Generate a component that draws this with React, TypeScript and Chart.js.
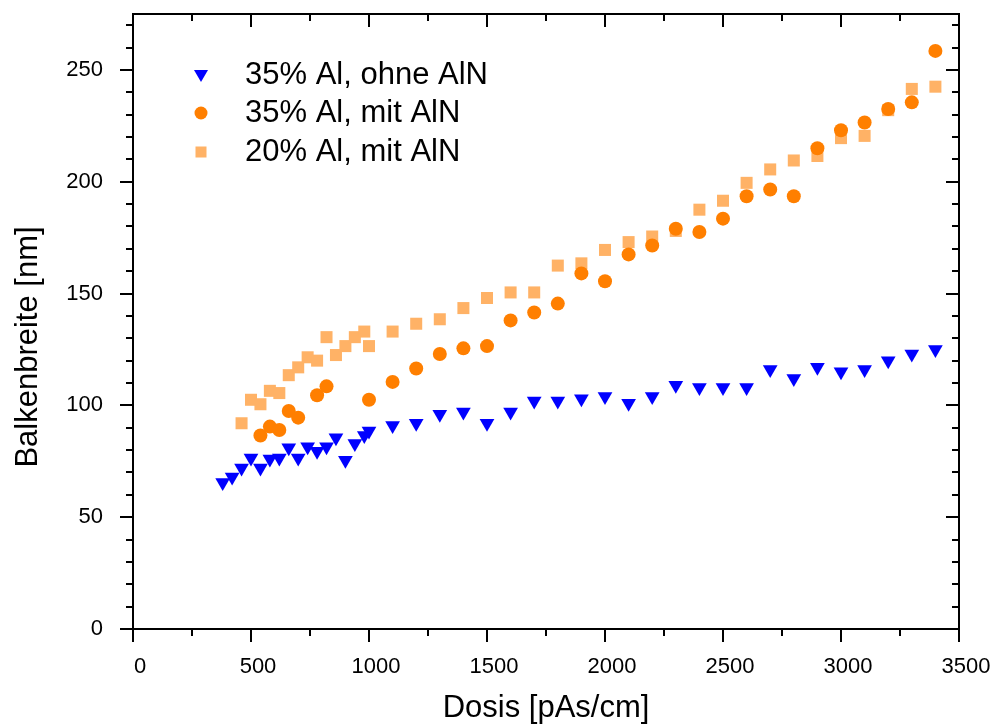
import React, { useEffect, useRef } from "react";
import { Chart, registerables } from "chart.js";

Chart.register(...registerables);

// ---- data ----
const seriesLabels = ["35% Al, ohne AlN", "35% Al, mit AlN", "20% Al, mit AlN"];

const xBlue = [380, 420, 460, 500, 540, 580, 620, 660, 700, 740, 780, 820, 860, 900, 940, 980, 1000, 1100, 1200, 1300, 1400, 1500, 1600, 1700, 1800, 1900, 2000, 2100, 2200, 2300, 2400, 2500, 2600, 2700, 2800, 2900, 3000, 3100, 3200, 3300, 3400];
const yBlue = [65.5, 68, 72, 76.5, 72, 76, 76.5, 81, 76.5, 81.5, 79.5, 81.5, 85.5, 75.5, 83, 86.5, 88.5, 91, 92, 96, 97, 92, 97, 102, 102, 103, 104, 101, 104, 109, 108, 108, 108, 116, 112, 117, 115, 116, 120, 123, 125];

const xOrange = [540, 580, 620, 660, 700, 780, 820, 1000, 1100, 1200, 1300, 1400, 1500, 1600, 1700, 1800, 1900, 2000, 2100, 2200, 2300, 2400, 2500, 2600, 2700, 2800, 2900, 3000, 3100, 3200, 3300, 3400];
const yOrange = [86.5, 90.5, 89, 97.5, 94.5, 104.5, 108.5, 102.5, 110.5, 116.5, 123, 125.5, 126.5, 138, 141.5, 145.5, 159, 155.5, 167.5, 171.5, 179, 177.5, 183.5, 193.5, 196.5, 193.5, 215, 223, 226.5, 232.5, 235.5, 258.5];

const xLight = [460, 500, 540, 580, 620, 660, 700, 740, 780, 820, 860, 900, 940, 980, 1000, 1100, 1200, 1300, 1400, 1500, 1600, 1700, 1800, 1900, 2000, 2100, 2200, 2300, 2400, 2500, 2600, 2700, 2800, 2900, 3000, 3100, 3200, 3300, 3400];
const yLight = [92, 102.5, 100.5, 106.5, 105.5, 113.5, 117, 121.5, 120, 130.5, 122.5, 126.5, 130.5, 133, 126.5, 133, 136.5, 138.5, 143.5, 148, 150.5, 150.5, 162.5, 163.5, 169.5, 173, 175.5, 178, 187.5, 191.5, 199.5, 205.5, 209.5, 211.5, 219.5, 220.5, 232, 241.5, 242.5];

const xMajorTicks = [0, 500, 1000, 1500, 2000, 2500, 3000, 3500];
const yMajorTicks = [0, 50, 100, 150, 200, 250];
const xMinorStep = 250;
const yMinorStep = 10;

const xTitle = "Dosis [pAs/cm]";
const yTitle = "Balkenbreite [nm]";

const BLUE = "#0000ff";
const ORANGE = "#ff7f00";
const LIGHT = "#ffb266";
const FONT = "'Liberation Sans', Arial, sans-serif";

const toPoints = (xs: number[], ys: number[]) => xs.map((x, i) => ({ x, y: ys[i] }));

const framePlugin = {
  id: "frame",
  afterDraw(chart: any) {
    const { ctx, chartArea: a, scales } = chart;
    const xs = scales.x;
    const ys = scales.y;
    ctx.save();
    ctx.strokeStyle = "#000";
    ctx.lineWidth = 2;
    ctx.lineCap = "butt";
    ctx.beginPath();
    ctx.rect(a.left, a.top, a.right - a.left, a.bottom - a.top);
    ctx.stroke();
    const MAJ = 13;
    const MIN = 7;
    ctx.beginPath();
    for (let v = xs.min; v <= xs.max + 1e-6; v += xMinorStep) {
      const px = Math.round(xs.getPixelForValue(v));
      const L = xMajorTicks.includes(v) ? MAJ : MIN;
      ctx.moveTo(px, a.bottom);
      ctx.lineTo(px, a.bottom + L);
      ctx.moveTo(px, a.top);
      ctx.lineTo(px, a.top + L);
    }
    for (let v = ys.min; v <= ys.max + 1e-6; v += yMinorStep) {
      const py = Math.round(ys.getPixelForValue(v));
      const L = yMajorTicks.includes(v) ? MAJ : MIN;
      ctx.moveTo(a.left, py);
      ctx.lineTo(a.left - L, py);
      ctx.moveTo(a.right, py);
      ctx.lineTo(a.right - L, py);
    }
    ctx.stroke();

    // axis titles
    ctx.fillStyle = "#000";
    ctx.font = `31px ${FONT}`;
    ctx.textAlign = "center";
    ctx.textBaseline = "middle";
    ctx.fillText(xTitle, (a.left + a.right) / 2, 708);
    ctx.save();
    ctx.translate(28, 347);
    ctx.rotate(-Math.PI / 2);
    ctx.fillText(yTitle, 0, 0);
    ctx.restore();

    // legend
    const rows = [75, 113, 152];
    const mx = 201;
    ctx.textAlign = "left";
    ctx.font = `31px ${FONT}`;
    rows.forEach((ry, i) => {
      ctx.beginPath();
      if (i === 0) {
        ctx.fillStyle = BLUE;
        ctx.moveTo(mx - 7, ry - 5);
        ctx.lineTo(mx + 7, ry - 5);
        ctx.lineTo(mx, ry + 7);
        ctx.closePath();
        ctx.fill();
      } else if (i === 1) {
        ctx.fillStyle = ORANGE;
        ctx.arc(mx, ry, 6.5, 0, Math.PI * 2);
        ctx.fill();
      } else {
        ctx.fillStyle = LIGHT;
        ctx.fillRect(mx - 5.5, ry - 5.5, 11, 11);
      }
      ctx.fillStyle = "#000";
      ctx.fillText(seriesLabels[i], 245, ry);
    });
    ctx.restore();
  },
};

const clearPadding = (s: any) => {
  s.paddingTop = 0;
  s.paddingBottom = 0;
  s.paddingLeft = 0;
  s.paddingRight = 0;
};

export default function App() {
  const ref = useRef<HTMLCanvasElement | null>(null);
  useEffect(() => {
    if (!ref.current) return;
    const chart = new Chart(ref.current, {
      type: "scatter",
      data: {
        datasets: [
          {
            label: seriesLabels[0],
            data: toPoints(xBlue, yBlue),
            pointStyle: "triangle",
            rotation: 180,
            radius: 8.5,
            backgroundColor: BLUE,
            borderWidth: 0,
          },
          {
            label: seriesLabels[1],
            data: toPoints(xOrange, yOrange),
            pointStyle: "circle",
            radius: 7,
            backgroundColor: ORANGE,
            borderWidth: 0,
          },
          {
            label: seriesLabels[2],
            data: toPoints(xLight, yLight),
            pointStyle: "rect",
            radius: 8.5,
            backgroundColor: LIGHT,
            borderWidth: 0,
          },
        ],
      },
      options: {
        animation: false,
        responsive: false,
        events: [],
        layout: { padding: { top: 14, right: 37, left: 0, bottom: 0 } },
        plugins: { legend: { display: false }, tooltip: { enabled: false } },
        scales: {
          x: {
            type: "linear",
            min: 0,
            max: 3500,
            grid: { display: false, drawTicks: false },
            border: { display: false },
            ticks: {
              stepSize: 500,
              padding: 25,
              labelOffset: 7,
              color: "#000",
              font: { family: FONT, size: 22 },
              maxRotation: 0,
              callback: (v: any) => String(v),
            },
            afterFit: (s: any) => {
              s.height = 95;
              clearPadding(s);
            },
          },
          y: {
            type: "linear",
            min: 0,
            max: 275,
            grid: { display: false, drawTicks: false },
            border: { display: false },
            ticks: {
              stepSize: 50,
              includeBounds: false,
              padding: 30,
              color: "#000",
              font: { family: FONT, size: 22 },
              callback: (v: any) => String(v),
            },
            afterFit: (s: any) => {
              s.width = 133;
              clearPadding(s);
            },
          },
        },
      },
      plugins: [framePlugin],
    });
    return () => chart.destroy();
  }, []);
  return (
    <div style={{ position: "absolute", left: 0, top: 0, width: 996, height: 724, background: "#fff" }}>
      <canvas ref={ref} width={996} height={724} style={{ display: "block" }} />
    </div>
  );
}
